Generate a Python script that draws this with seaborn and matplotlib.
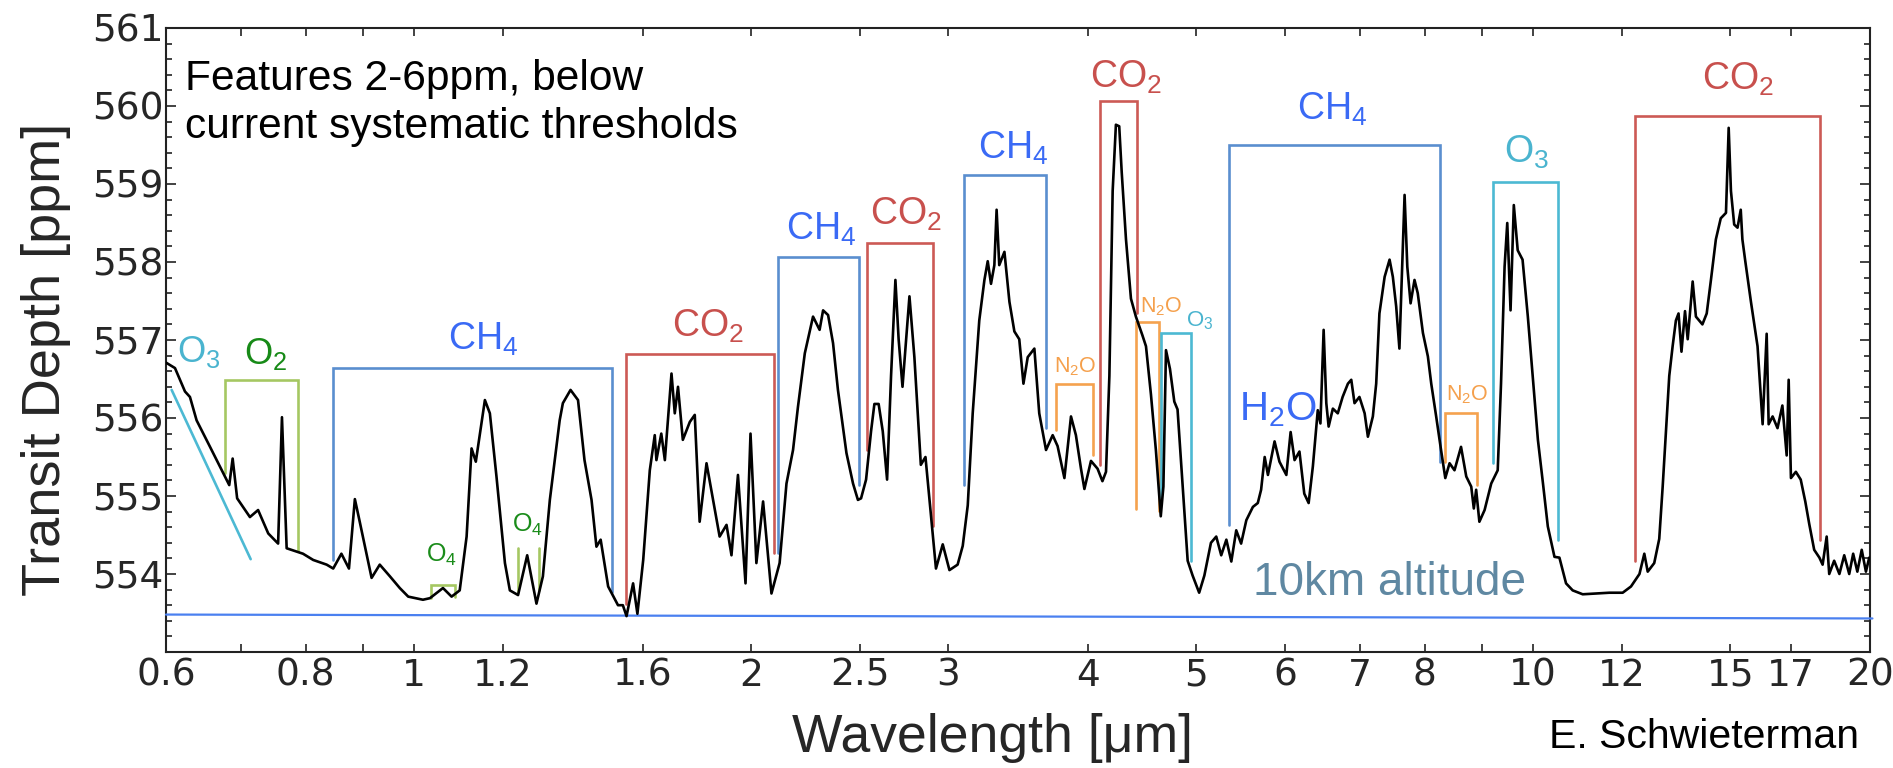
import numpy as np
import pandas as pd
import matplotlib
matplotlib.use('Agg')
import matplotlib.pyplot as plt
import seaborn as sns
from matplotlib.ticker import FixedLocator, FixedFormatter, MultipleLocator, NullLocator

# ---------------- data ----------------
wavelength = [
    0.600, 0.6112, 0.6239, 0.6303, 0.6390, 0.6569, 0.6834, 0.6882, 0.6946, 0.7131,
    0.7252, 0.7405, 0.7557, 0.7617, 0.7691, 0.7954, 0.8123, 0.8351, 0.8464, 0.8608,
    0.8743, 0.8850, 0.8939, 0.9160, 0.9315, 0.9512, 0.9707, 0.9877, 1.0181, 1.0328,
    1.0609, 1.0799, 1.0981, 1.1138, 1.1252, 1.1351, 1.1565, 1.1684, 1.1844, 1.2052,
    1.2175, 1.2382, 1.2617, 1.2860, 1.3031, 1.3219, 1.3354, 1.3489, 1.3578, 1.3794,
    1.4008, 1.4196, 1.4403, 1.4549, 1.4676, 1.4904, 1.5209, 1.5362, 1.5479, 1.5689,
    1.5829, 1.6019, 1.6238, 1.6404, 1.6460, 1.6626, 1.6749, 1.6979, 1.7094, 1.7208,
    1.7380, 1.7632, 1.7812, 1.7992, 1.8248, 1.8495, 1.8747, 1.9015, 1.9210, 1.9468,
    1.9773, 1.9977, 2.0220, 2.0501, 2.0857, 2.1210, 2.1512, 2.1804, 2.2025, 2.2339,
    2.2720, 2.3029, 2.3195, 2.3435, 2.3675, 2.3915, 2.4338, 2.4669, 2.4919, 2.5080,
    2.5340, 2.5601, 2.5778, 2.6004, 2.6225, 2.6460, 2.6677, 2.6917, 2.7096, 2.7313,
    2.7706, 2.7989, 2.8363, 2.8635, 2.8907, 2.9260, 2.9671, 3.0083, 3.0593, 3.0917,
    3.1238, 3.1558, 3.1987, 3.2328, 3.2549, 3.2769, 3.2996, 3.3149, 3.3330, 3.3687,
    3.4035, 3.4383, 3.4731, 3.5031, 3.5341, 3.5827, 3.6189, 3.6697, 3.7203, 3.7581,
    3.8112, 3.8632, 3.9025, 3.9435, 3.9713, 4.0254, 4.0803, 4.1214, 4.1518, 4.1808,
    4.2091, 4.2373, 4.2663, 4.2883, 4.3261, 4.3706, 4.4152, 4.4454, 4.4749, 4.5078,
    4.5542, 4.6006, 4.6470, 4.6723, 4.6972, 4.7359, 4.7784, 4.8103, 4.8612, 4.9116,
    4.9619, 5.0292, 5.0832, 5.1526, 5.2091, 5.2627, 5.3187, 5.3732, 5.4279, 5.4826,
    5.5419, 5.6171, 5.6741, 5.7128, 5.7551, 5.7937, 5.8733, 5.9327, 6.0174, 6.0707,
    6.1200, 6.1819, 6.2437, 6.3000, 6.3550, 6.4195, 6.4546, 6.4974, 6.5332, 6.5645,
    6.6220, 6.6892, 6.7564, 6.8301, 6.8776, 6.9238, 6.9939, 7.0695, 7.1170, 7.1900,
    7.2395, 7.2877, 7.3664, 7.4417, 7.4919, 7.5436, 7.5938, 7.6285, 7.6751, 7.7181,
    7.7704, 7.8335, 7.8858, 7.9703, 8.0519, 8.1080, 8.1905, 8.2730, 8.3458, 8.4193,
    8.5053, 8.6205, 8.7138, 8.8034, 8.8504, 8.8930, 8.9522, 9.0489, 9.1731, 9.2964,
    9.3599, 9.4289, 9.4809, 9.5451, 9.6094, 9.6868, 9.7841, 9.8909, 9.9923, 10.098,
    10.204, 10.306, 10.448, 10.555, 10.700, 10.847, 11.073, 11.379, 11.697, 12.023,
    12.230, 12.445, 12.570, 12.658, 12.829, 12.962, 13.054, 13.143, 13.232, 13.324,
    13.414, 13.487, 13.569, 13.668, 13.744, 13.885, 13.978, 14.166, 14.292, 14.417,
    14.564, 14.711, 14.870, 14.953, 15.023, 15.124, 15.228, 15.329, 15.381, 15.473,
    15.654, 15.868, 16.035, 16.169, 16.235, 16.368, 16.534, 16.700, 16.849, 16.918,
    16.997, 17.170, 17.343, 17.506, 17.650, 17.830, 18.022, 18.142, 18.294, 18.390,
    18.578, 18.779, 18.967, 19.163, 19.319, 19.486, 19.662, 19.833, 19.968,
]
depth = [
    556.71, 556.64, 556.34, 556.27, 555.97, 555.63, 555.14, 555.48, 554.97, 554.73,
    554.82, 554.52, 554.39, 556.01, 554.33, 554.26, 554.18, 554.12, 554.07, 554.26,
    554.07, 554.96, 554.67, 553.95, 554.12, 553.97, 553.82, 553.71, 553.67, 553.69,
    553.82, 553.71, 553.79, 554.48, 555.61, 555.44, 556.23, 556.06, 555.25, 554.14,
    553.79, 553.73, 554.24, 553.62, 553.97, 554.95, 555.46, 555.97, 556.19, 556.36,
    556.23, 555.46, 554.95, 554.35, 554.44, 553.84, 553.60, 553.60, 553.46, 553.88,
    553.49, 554.18, 555.33, 555.78, 555.46, 555.80, 555.46, 556.57, 556.06, 556.40,
    555.72, 555.95, 556.04, 554.67, 555.42, 554.95, 554.48, 554.63, 554.24, 555.27,
    553.88, 555.80, 554.14, 554.93, 553.75, 554.14, 555.16, 555.59, 556.14, 556.83,
    557.30, 557.13, 557.38, 557.32, 556.96, 556.36, 555.55, 555.16, 554.95, 554.97,
    555.21, 555.83, 556.18, 556.18, 555.83, 555.21, 556.54, 557.77, 557.01, 556.40,
    557.56, 556.78, 555.40, 555.50, 554.88, 554.07, 554.38, 554.05, 554.12, 554.36,
    554.88, 556.06, 557.25, 557.77, 558.01, 557.72, 557.96, 558.67, 557.96, 558.13,
    557.49, 557.11, 557.01, 556.44, 556.78, 556.89, 556.06, 555.59, 555.78, 555.64,
    555.23, 556.02, 555.78, 555.35, 555.09, 555.45, 555.35, 555.19, 555.31, 556.54,
    558.91, 559.76, 559.74, 559.15, 558.29, 557.53, 557.30, 557.18, 557.06, 556.92,
    556.30, 555.59, 554.74, 555.12, 556.87, 556.63, 556.21, 556.11, 555.12, 554.17,
    553.98, 553.76, 553.98, 554.40, 554.48, 554.24, 554.44, 554.16, 554.56, 554.39,
    554.69, 554.86, 554.91, 555.08, 555.50, 555.27, 555.70, 555.44, 555.27, 555.82,
    555.46, 555.57, 555.03, 554.91, 555.38, 556.10, 555.93, 557.13, 556.19, 555.89,
    556.12, 556.06, 556.27, 556.44, 556.49, 556.19, 556.27, 556.06, 555.76, 556.02,
    556.44, 557.34, 557.81, 558.03, 557.81, 557.43, 556.89, 557.73, 558.86, 557.94,
    557.47, 557.77, 557.60, 557.09, 556.79, 556.44, 556.02, 555.59, 555.23, 555.42,
    555.33, 555.63, 555.25, 555.12, 554.84, 555.08, 554.67, 554.82, 555.16, 555.33,
    556.44, 557.94, 558.50, 557.38, 558.73, 558.15, 558.03, 557.30, 556.53, 555.72,
    555.16, 554.61, 554.22, 554.21, 553.88, 553.79, 553.74, 553.75, 553.76, 553.76,
    553.84, 554.00, 554.26, 554.03, 554.14, 554.45, 555.12, 555.83, 556.54, 556.92,
    557.25, 557.34, 556.85, 557.37, 557.01, 557.75, 557.30, 557.20, 557.34, 557.77,
    558.29, 558.56, 558.63, 559.72, 558.91, 558.48, 558.44, 558.67, 558.29, 558.01,
    557.49, 556.92, 555.92, 557.08, 555.92, 556.02, 555.87, 556.16, 555.52, 556.49,
    555.23, 555.31, 555.21, 554.93, 554.64, 554.31, 554.21, 554.12, 554.48, 554.00,
    554.17, 554.00, 554.24, 554.00, 554.26, 554.03, 554.31, 554.03, 554.21,
]

# absorption-band brackets
bracket_species = ['O2', 'CH4', 'O4', 'CO2', 'CH4', 'CO2', 'CH4', 'N2O', 'CO2',
                   'N2O', 'O3', 'CH4', 'N2O', 'O3', 'CO2']
bracket_left = [0.6774, 0.8464, 1.0343, 1.5457, 2.1138, 2.5393, 3.0982, 3.7453, 4.0995,
                4.4152, 4.647, 5.344, 8.3458, 9.203, 12.342]
bracket_right = [0.7875, 1.5027, 1.0872, 2.0968, 2.4990, 2.9107, 3.6697, 4.0451, 4.4213,
                 4.6268, 4.9448, 8.2618, 8.9113, 10.515, 18.042]
bracket_top = [556.49, 556.64, 553.86, 556.82, 558.07, 558.25, 559.12, 556.44, 560.06,
               557.23, 557.09, 559.50, 556.06, 559.03, 559.87]
bracket_left_bottom = [555.29, 554.18, 553.69, 553.62, 554.27, 555.59, 555.14, 555.85, 555.40,
                       554.83, 554.97, 554.63, 555.44, 555.42, 554.17]
bracket_right_bottom = [554.29, 553.77, 553.71, 554.27, 555.14, 554.62, 555.87, 555.52, 557.35,
                        554.81, 554.17, 555.44, 555.14, 554.44, 554.43]

# second O4 band: two bare markers
o4_marker_x = [1.2382, 1.2920]
o4_marker_top = [554.33, 554.33]
o4_marker_bottom = [553.77, 553.80]

# O3 Chappuis slope marker
o3_slope_x = [0.607, 0.7142]
o3_slope_y = [556.36, 554.19]

# 10 km altitude reference line
ref_x = [0.6, 20.1]
ref_y = [553.48, 553.43]

# species labels
label_text = ['O$_3$', 'O$_2$', 'CH$_4$', 'O$_4$', 'O$_4$', 'CO$_2$', 'CH$_4$', 'CO$_2$',
              'CH$_4$', 'N$_2$O', 'CO$_2$', 'N$_2$O', 'O$_3$', 'CH$_4$', 'H$_2$O', 'N$_2$O',
              'O$_3$', 'CO$_2$']
label_species = ['O3', 'O2', 'CH4', 'O4', 'O4', 'CO2', 'CH4', 'CO2', 'CH4', 'N2O', 'CO2',
                 'N2O', 'O3', 'CH4', 'H2O', 'N2O', 'O3', 'CO2']
label_x = [0.642, 0.737, 1.152, 1.058, 1.2635, 1.830, 2.310, 2.750, 3.43, 3.900, 4.33,
           4.647, 5.039, 6.61, 5.915, 8.728, 9.865, 15.256]
label_y = [556.72, 556.69, 556.87, 554.16, 554.54, 557.04, 558.28, 558.48, 559.33, 556.59,
           560.24, 557.35, 557.18, 559.82, 555.97, 556.23, 559.27, 560.21]
label_size = [26, 26, 27, 18, 18, 27, 27, 27, 27, 15.5, 27, 15.5, 16, 27, 29, 15.5, 27, 27]

xtick_values = [0.6, 0.7, 0.8, 0.9, 1, 1.2, 1.6, 2, 2.5, 3, 4, 5, 6, 7, 8, 9, 10, 12, 15, 17, 20]
xtick_labels = ['0.6', '', '0.8', '', '1', '1.2', '1.6', '2', '2.5', '3', '4', '5', '6', '7',
                '8', '', '10', '12', '15', '17', '20']
ytick_values = [554, 555, 556, 557, 558, 559, 560, 561]

# ---------------- styling ----------------
bracket_color = {'CO2': '#cc5a55', 'CH4': '#5a8ecf', 'O2': '#a5c762', 'O4': '#a5c762',
                 'N2O': '#f5a24e', 'O3': '#4cb9d3'}
label_color = {'CO2': '#c8504d', 'CH4': '#3a6af5', 'O2': '#178a17', 'O4': '#1a8c1a',
               'N2O': '#f5a04c', 'O3': '#4ab4cf', 'H2O': '#3a6af5'}

sns.set_style('ticks')
plt.rcParams['font.family'] = ['Liberation Sans', 'DejaVu Sans']
plt.rcParams['mathtext.fontset'] = 'custom'
plt.rcParams['mathtext.rm'] = 'Liberation Sans'
plt.rcParams['mathtext.it'] = 'Liberation Sans:italic'
plt.rcParams['mathtext.bf'] = 'Liberation Sans:bold'

fig = plt.figure(figsize=(18.93, 7.68), dpi=100)
ax = fig.add_axes([166 / 1893, 1 - 652 / 768, 1704 / 1893, 624 / 768])
ax.set_xscale('log')

df = pd.DataFrame({'wavelength': wavelength, 'depth': depth})
sns.lineplot(data=df, x='wavelength', y='depth', sort=False, estimator=None,
             color='black', lw=1.9, ax=ax, zorder=5)

# reference line
ax.plot(ref_x, ref_y, color='#4a80f0', lw=1.6, clip_on=False, zorder=3)

# brackets
for sp, xl, xr, yt, ylb, yrb in zip(bracket_species, bracket_left, bracket_right,
                                    bracket_top, bracket_left_bottom, bracket_right_bottom):
    ax.plot([xl, xl, xr, xr], [ylb, yt, yt, yrb], color=bracket_color[sp], lw=1.9,
            solid_joinstyle='miter', zorder=4)

for xm, yt, yb in zip(o4_marker_x, o4_marker_top, o4_marker_bottom):
    ax.plot([xm, xm], [yb, yt], color=bracket_color['O4'], lw=1.9, zorder=4)

ax.plot(o3_slope_x, o3_slope_y, color=bracket_color['O3'], lw=1.9, zorder=4)

for t, sp, x, y, s in zip(label_text, label_species, label_x, label_y, label_size):
    ax.text(x, y, t, color=label_color[sp], fontsize=s, ha='center', va='baseline', zorder=6)

ax.text(5.614, 553.73, '10km altitude', color='#5f88a2', fontsize=33, ha='left',
        va='baseline', zorder=6)

ax.text(0.0111, 0.9006, 'Features 2-6ppm, below', transform=ax.transAxes, fontsize=30.6,
        va='baseline', ha='left', color='black')
ax.text(0.0111, 0.8237, 'current systematic thresholds', transform=ax.transAxes, fontsize=30.6,
        va='baseline', ha='left', color='black')

# axes
ax.set_xlim(0.6, 20)
ax.set_ylim(553, 561)
ax.xaxis.set_major_locator(FixedLocator(xtick_values))
ax.xaxis.set_major_formatter(FixedFormatter(xtick_labels))
ax.xaxis.set_minor_locator(NullLocator())
ax.yaxis.set_major_locator(FixedLocator(ytick_values))
ax.yaxis.set_minor_locator(MultipleLocator(0.2))

ax.tick_params(axis='both', which='both', direction='in', top=True, right=True,
               color='#222222', width=1.2)
ax.tick_params(axis='x', which='major', length=6, pad=4, labelsize=27)
ax.tick_params(axis='y', which='major', length=7, pad=2, labelsize=27)
ax.tick_params(axis='y', which='minor', length=4)
for lbl in ax.get_xticklabels() + ax.get_yticklabels():
    lbl.set_fontfamily('DejaVu Sans')

for sp in ax.spines.values():
    sp.set_visible(True)
    sp.set_color('#222222')
    sp.set_linewidth(1.5)

ax.set_xlabel('Wavelength [μm]', fontsize=38.5)
ax.xaxis.set_label_coords(0.4853, -0.098)
ax.set_ylabel('Transit Depth [ppm]', fontsize=39)
ax.yaxis.set_label_coords(-0.056, 0.4696)

fig.text(1859 / 1893, 1 - 748 / 768, 'E. Schwieterman', fontsize=29.5, ha='right',
         va='baseline', color='black')

fig.savefig('out.png', dpi=100)
